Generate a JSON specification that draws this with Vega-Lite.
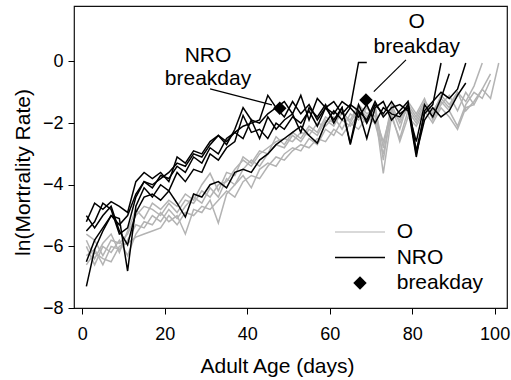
{
"$schema": "https://vega.github.io/schema/vega-lite/v6.json",
"autosize": {"type": "none"},
"padding": {"left": 74, "top": 6, "right": 4, "bottom": 72},
"width": 433,
"height": 302,
"background": "white",
"config": {
  "font": "Liberation Sans",
  "view": {"stroke": "#111", "strokeWidth": 1.2},
  "axis": {"grid": false, "domain": false, "tickColor": "#000", "tickSize": 6, "tickWidth": 1, "labelColor": "#000", "labelFont": "Liberation Sans", "labelFontSize": 18, "titleColor": "#000", "titleFont": "Liberation Sans", "titleFontSize": 21, "titleFontWeight": "normal"}
},
"datasets": {
  "series": [
{"pop":"O1","grp":"O","day":1,"lnm":-5.6},{"pop":"O1","grp":"O","day":3,"lnm":-5.8},{"pop":"O1","grp":"O","day":5,"lnm":-6.3},{"pop":"O1","grp":"O","day":7,"lnm":-5.8},{"pop":"O1","grp":"O","day":9,"lnm":-5.9},{"pop":"O1","grp":"O","day":11,"lnm":-5.6},{"pop":"O1","grp":"O","day":13,"lnm":-5.0},{"pop":"O1","grp":"O","day":15,"lnm":-4.7},{"pop":"O1","grp":"O","day":17,"lnm":-4.8},{"pop":"O1","grp":"O","day":19,"lnm":-5.0},{"pop":"O1","grp":"O","day":21,"lnm":-4.6},{"pop":"O1","grp":"O","day":23,"lnm":-4.9},{"pop":"O1","grp":"O","day":25,"lnm":-4.5},{"pop":"O1","grp":"O","day":27,"lnm":-4.6},{"pop":"O1","grp":"O","day":29,"lnm":-4.2},{"pop":"O1","grp":"O","day":31,"lnm":-4.4},{"pop":"O1","grp":"O","day":33,"lnm":-4.0},{"pop":"O1","grp":"O","day":35,"lnm":-3.9},{"pop":"O1","grp":"O","day":37,"lnm":-3.5},{"pop":"O1","grp":"O","day":39,"lnm":-3.2},{"pop":"O1","grp":"O","day":41,"lnm":-3.4},{"pop":"O1","grp":"O","day":43,"lnm":-3.0},{"pop":"O1","grp":"O","day":45,"lnm":-2.8},{"pop":"O1","grp":"O","day":47,"lnm":-2.6},{"pop":"O1","grp":"O","day":49,"lnm":-2.5},{"pop":"O1","grp":"O","day":51,"lnm":-2.6},{"pop":"O1","grp":"O","day":53,"lnm":-2.3},{"pop":"O1","grp":"O","day":55,"lnm":-2.4},{"pop":"O1","grp":"O","day":57,"lnm":-2.0},{"pop":"O1","grp":"O","day":59,"lnm":-2.1},{"pop":"O1","grp":"O","day":61,"lnm":-1.8},{"pop":"O1","grp":"O","day":63,"lnm":-2.2},{"pop":"O1","grp":"O","day":65,"lnm":-1.7},{"pop":"O1","grp":"O","day":67,"lnm":-1.9},{"pop":"O1","grp":"O","day":69,"lnm":-1.5},{"pop":"O1","grp":"O","day":71,"lnm":-1.8},{"pop":"O1","grp":"O","day":73,"lnm":-2.6},{"pop":"O1","grp":"O","day":75,"lnm":-1.6},{"pop":"O1","grp":"O","day":77,"lnm":-1.9},{"pop":"O1","grp":"O","day":79,"lnm":-1.4},{"pop":"O1","grp":"O","day":81,"lnm":-1.8},{"pop":"O1","grp":"O","day":83,"lnm":-1.3},{"pop":"O1","grp":"O","day":85,"lnm":-1.6},{"pop":"O1","grp":"O","day":87,"lnm":-1.2},{"pop":"O1","grp":"O","day":89,"lnm":-1.5},{"pop":"O1","grp":"O","day":91,"lnm":-1.0},{"pop":"O1","grp":"O","day":93,"lnm":-1.3},{"pop":"O1","grp":"O","day":95,"lnm":-0.8},{"pop":"O1","grp":"O","day":97,"lnm":-0.05},
{"pop":"O2","grp":"O","day":1,"lnm":-6.0},{"pop":"O2","grp":"O","day":3,"lnm":-6.6},{"pop":"O2","grp":"O","day":5,"lnm":-6.0},{"pop":"O2","grp":"O","day":7,"lnm":-6.2},{"pop":"O2","grp":"O","day":9,"lnm":-5.8},{"pop":"O2","grp":"O","day":11,"lnm":-6.3},{"pop":"O2","grp":"O","day":13,"lnm":-5.6},{"pop":"O2","grp":"O","day":15,"lnm":-5.2},{"pop":"O2","grp":"O","day":17,"lnm":-5.3},{"pop":"O2","grp":"O","day":19,"lnm":-4.9},{"pop":"O2","grp":"O","day":21,"lnm":-5.2},{"pop":"O2","grp":"O","day":23,"lnm":-5.0},{"pop":"O2","grp":"O","day":25,"lnm":-5.6},{"pop":"O2","grp":"O","day":27,"lnm":-4.8},{"pop":"O2","grp":"O","day":29,"lnm":-4.9},{"pop":"O2","grp":"O","day":31,"lnm":-4.5},{"pop":"O2","grp":"O","day":33,"lnm":-5.24},{"pop":"O2","grp":"O","day":35,"lnm":-4.3},{"pop":"O2","grp":"O","day":37,"lnm":-4.0},{"pop":"O2","grp":"O","day":39,"lnm":-3.7},{"pop":"O2","grp":"O","day":41,"lnm":-4.1},{"pop":"O2","grp":"O","day":43,"lnm":-3.5},{"pop":"O2","grp":"O","day":45,"lnm":-3.3},{"pop":"O2","grp":"O","day":47,"lnm":-3.4},{"pop":"O2","grp":"O","day":49,"lnm":-3.0},{"pop":"O2","grp":"O","day":51,"lnm":-2.8},{"pop":"O2","grp":"O","day":53,"lnm":-2.9},{"pop":"O2","grp":"O","day":55,"lnm":-2.5},{"pop":"O2","grp":"O","day":57,"lnm":-2.7},{"pop":"O2","grp":"O","day":59,"lnm":-2.2},{"pop":"O2","grp":"O","day":61,"lnm":-2.4},{"pop":"O2","grp":"O","day":63,"lnm":-1.9},{"pop":"O2","grp":"O","day":65,"lnm":-2.1},{"pop":"O2","grp":"O","day":67,"lnm":-1.7},{"pop":"O2","grp":"O","day":69,"lnm":-2.0},{"pop":"O2","grp":"O","day":71,"lnm":-1.6},{"pop":"O2","grp":"O","day":73,"lnm":-3.63},{"pop":"O2","grp":"O","day":75,"lnm":-1.8},{"pop":"O2","grp":"O","day":77,"lnm":-2.5},{"pop":"O2","grp":"O","day":79,"lnm":-1.6},{"pop":"O2","grp":"O","day":81,"lnm":-2.0},{"pop":"O2","grp":"O","day":83,"lnm":-1.5},{"pop":"O2","grp":"O","day":85,"lnm":-1.8},{"pop":"O2","grp":"O","day":87,"lnm":-1.3},{"pop":"O2","grp":"O","day":89,"lnm":-1.6},{"pop":"O2","grp":"O","day":91,"lnm":-2.1},{"pop":"O2","grp":"O","day":93,"lnm":-1.4},{"pop":"O2","grp":"O","day":95,"lnm":-1.0},{"pop":"O2","grp":"O","day":97,"lnm":-1.2},{"pop":"O2","grp":"O","day":99,"lnm":-0.6},
{"pop":"O3","grp":"O","day":1,"lnm":-6.3},{"pop":"O3","grp":"O","day":3,"lnm":-6.1},{"pop":"O3","grp":"O","day":5,"lnm":-6.6},{"pop":"O3","grp":"O","day":7,"lnm":-6.0},{"pop":"O3","grp":"O","day":9,"lnm":-6.1},{"pop":"O3","grp":"O","day":11,"lnm":-5.8},{"pop":"O3","grp":"O","day":13,"lnm":-5.3},{"pop":"O3","grp":"O","day":15,"lnm":-5.4},{"pop":"O3","grp":"O","day":17,"lnm":-5.0},{"pop":"O3","grp":"O","day":19,"lnm":-5.2},{"pop":"O3","grp":"O","day":21,"lnm":-4.8},{"pop":"O3","grp":"O","day":23,"lnm":-5.1},{"pop":"O3","grp":"O","day":25,"lnm":-4.7},{"pop":"O3","grp":"O","day":27,"lnm":-4.4},{"pop":"O3","grp":"O","day":29,"lnm":-4.6},{"pop":"O3","grp":"O","day":31,"lnm":-4.1},{"pop":"O3","grp":"O","day":33,"lnm":-4.4},{"pop":"O3","grp":"O","day":35,"lnm":-3.8},{"pop":"O3","grp":"O","day":37,"lnm":-4.0},{"pop":"O3","grp":"O","day":39,"lnm":-3.5},{"pop":"O3","grp":"O","day":41,"lnm":-3.2},{"pop":"O3","grp":"O","day":43,"lnm":-3.4},{"pop":"O3","grp":"O","day":45,"lnm":-3.0},{"pop":"O3","grp":"O","day":47,"lnm":-2.7},{"pop":"O3","grp":"O","day":49,"lnm":-2.8},{"pop":"O3","grp":"O","day":51,"lnm":-2.4},{"pop":"O3","grp":"O","day":53,"lnm":-2.6},{"pop":"O3","grp":"O","day":55,"lnm":-2.2},{"pop":"O3","grp":"O","day":57,"lnm":-2.4},{"pop":"O3","grp":"O","day":59,"lnm":-1.9},{"pop":"O3","grp":"O","day":61,"lnm":-2.1},{"pop":"O3","grp":"O","day":63,"lnm":-1.6},{"pop":"O3","grp":"O","day":65,"lnm":-2.0},{"pop":"O3","grp":"O","day":67,"lnm":-1.5},{"pop":"O3","grp":"O","day":69,"lnm":-1.8},{"pop":"O3","grp":"O","day":71,"lnm":-1.4},{"pop":"O3","grp":"O","day":73,"lnm":-3.2},{"pop":"O3","grp":"O","day":75,"lnm":-1.5},{"pop":"O3","grp":"O","day":77,"lnm":-2.2},{"pop":"O3","grp":"O","day":79,"lnm":-1.3},{"pop":"O3","grp":"O","day":81,"lnm":-1.7},{"pop":"O3","grp":"O","day":83,"lnm":-1.2},{"pop":"O3","grp":"O","day":85,"lnm":-1.9},{"pop":"O3","grp":"O","day":87,"lnm":-1.4},{"pop":"O3","grp":"O","day":89,"lnm":-1.1},{"pop":"O3","grp":"O","day":91,"lnm":-1.6},{"pop":"O3","grp":"O","day":93,"lnm":-1.0},{"pop":"O3","grp":"O","day":95,"lnm":-1.4},{"pop":"O3","grp":"O","day":97,"lnm":-0.9},{"pop":"O3","grp":"O","day":99,"lnm":-1.2},{"pop":"O3","grp":"O","day":101,"lnm":-0.05},
{"pop":"O4","grp":"O","day":1,"lnm":-6.6},{"pop":"O4","grp":"O","day":3,"lnm":-6.2},{"pop":"O4","grp":"O","day":5,"lnm":-6.4},{"pop":"O4","grp":"O","day":7,"lnm":-6.5},{"pop":"O4","grp":"O","day":9,"lnm":-6.0},{"pop":"O4","grp":"O","day":11,"lnm":-5.9},{"pop":"O4","grp":"O","day":13,"lnm":-5.7},{"pop":"O4","grp":"O","day":15,"lnm":-5.6},{"pop":"O4","grp":"O","day":17,"lnm":-5.5},{"pop":"O4","grp":"O","day":19,"lnm":-5.4},{"pop":"O4","grp":"O","day":21,"lnm":-5.0},{"pop":"O4","grp":"O","day":23,"lnm":-5.3},{"pop":"O4","grp":"O","day":25,"lnm":-4.9},{"pop":"O4","grp":"O","day":27,"lnm":-5.0},{"pop":"O4","grp":"O","day":29,"lnm":-4.7},{"pop":"O4","grp":"O","day":31,"lnm":-4.8},{"pop":"O4","grp":"O","day":33,"lnm":-4.5},{"pop":"O4","grp":"O","day":35,"lnm":-4.2},{"pop":"O4","grp":"O","day":37,"lnm":-4.4},{"pop":"O4","grp":"O","day":39,"lnm":-3.9},{"pop":"O4","grp":"O","day":41,"lnm":-3.7},{"pop":"O4","grp":"O","day":43,"lnm":-3.8},{"pop":"O4","grp":"O","day":45,"lnm":-3.4},{"pop":"O4","grp":"O","day":47,"lnm":-3.1},{"pop":"O4","grp":"O","day":49,"lnm":-3.2},{"pop":"O4","grp":"O","day":51,"lnm":-2.9},{"pop":"O4","grp":"O","day":53,"lnm":-2.7},{"pop":"O4","grp":"O","day":55,"lnm":-2.8},{"pop":"O4","grp":"O","day":57,"lnm":-2.5},{"pop":"O4","grp":"O","day":59,"lnm":-2.6},{"pop":"O4","grp":"O","day":61,"lnm":-2.2},{"pop":"O4","grp":"O","day":63,"lnm":-2.4},{"pop":"O4","grp":"O","day":65,"lnm":-2.0},{"pop":"O4","grp":"O","day":67,"lnm":-2.2},{"pop":"O4","grp":"O","day":69,"lnm":-1.8},{"pop":"O4","grp":"O","day":71,"lnm":-2.0},{"pop":"O4","grp":"O","day":73,"lnm":-3.0},{"pop":"O4","grp":"O","day":75,"lnm":-1.7},{"pop":"O4","grp":"O","day":77,"lnm":-2.6},{"pop":"O4","grp":"O","day":79,"lnm":-1.8},{"pop":"O4","grp":"O","day":81,"lnm":-2.1},{"pop":"O4","grp":"O","day":83,"lnm":-1.6},{"pop":"O4","grp":"O","day":85,"lnm":-2.0},{"pop":"O4","grp":"O","day":87,"lnm":-1.5},{"pop":"O4","grp":"O","day":89,"lnm":-1.8},{"pop":"O4","grp":"O","day":91,"lnm":-2.2},{"pop":"O4","grp":"O","day":93,"lnm":-1.5},{"pop":"O4","grp":"O","day":95,"lnm":-1.4},
{"pop":"O5","grp":"O","day":1,"lnm":-5.8},{"pop":"O5","grp":"O","day":3,"lnm":-6.4},{"pop":"O5","grp":"O","day":5,"lnm":-5.9},{"pop":"O5","grp":"O","day":7,"lnm":-5.6},{"pop":"O5","grp":"O","day":9,"lnm":-6.2},{"pop":"O5","grp":"O","day":11,"lnm":-5.5},{"pop":"O5","grp":"O","day":13,"lnm":-4.8},{"pop":"O5","grp":"O","day":15,"lnm":-5.1},{"pop":"O5","grp":"O","day":17,"lnm":-4.6},{"pop":"O5","grp":"O","day":19,"lnm":-4.8},{"pop":"O5","grp":"O","day":21,"lnm":-4.5},{"pop":"O5","grp":"O","day":23,"lnm":-4.7},{"pop":"O5","grp":"O","day":25,"lnm":-4.3},{"pop":"O5","grp":"O","day":27,"lnm":-4.5},{"pop":"O5","grp":"O","day":29,"lnm":-4.0},{"pop":"O5","grp":"O","day":31,"lnm":-3.63},{"pop":"O5","grp":"O","day":33,"lnm":-4.2},{"pop":"O5","grp":"O","day":35,"lnm":-3.6},{"pop":"O5","grp":"O","day":37,"lnm":-3.7},{"pop":"O5","grp":"O","day":39,"lnm":-3.1},{"pop":"O5","grp":"O","day":41,"lnm":-3.3},{"pop":"O5","grp":"O","day":43,"lnm":-2.9},{"pop":"O5","grp":"O","day":45,"lnm":-3.0},{"pop":"O5","grp":"O","day":47,"lnm":-2.44},{"pop":"O5","grp":"O","day":49,"lnm":-2.7},{"pop":"O5","grp":"O","day":51,"lnm":-2.3},{"pop":"O5","grp":"O","day":53,"lnm":-2.5},{"pop":"O5","grp":"O","day":55,"lnm":-2.1},{"pop":"O5","grp":"O","day":57,"lnm":-2.3},{"pop":"O5","grp":"O","day":59,"lnm":-1.8},{"pop":"O5","grp":"O","day":61,"lnm":-2.0},{"pop":"O5","grp":"O","day":63,"lnm":-1.7},{"pop":"O5","grp":"O","day":65,"lnm":-1.9},{"pop":"O5","grp":"O","day":67,"lnm":-1.4},{"pop":"O5","grp":"O","day":69,"lnm":-1.7},{"pop":"O5","grp":"O","day":71,"lnm":-1.5},{"pop":"O5","grp":"O","day":73,"lnm":-2.8},{"pop":"O5","grp":"O","day":75,"lnm":-1.4},{"pop":"O5","grp":"O","day":77,"lnm":-2.0},{"pop":"O5","grp":"O","day":79,"lnm":-1.5},{"pop":"O5","grp":"O","day":81,"lnm":-1.9},{"pop":"O5","grp":"O","day":83,"lnm":-1.4},{"pop":"O5","grp":"O","day":85,"lnm":-1.7},{"pop":"O5","grp":"O","day":87,"lnm":-1.1},{"pop":"O5","grp":"O","day":89,"lnm":-1.4},{"pop":"O5","grp":"O","day":91,"lnm":-1.0},{"pop":"O5","grp":"O","day":93,"lnm":-1.6},{"pop":"O5","grp":"O","day":95,"lnm":-1.3},{"pop":"O5","grp":"O","day":97,"lnm":-0.9},{"pop":"O5","grp":"O","day":99,"lnm":-0.4},
{"pop":"N1","grp":"NRO","day":1,"lnm":-7.3},{"pop":"N1","grp":"NRO","day":3,"lnm":-6.1},{"pop":"N1","grp":"NRO","day":5,"lnm":-5.5},{"pop":"N1","grp":"NRO","day":7,"lnm":-5.0},{"pop":"N1","grp":"NRO","day":9,"lnm":-5.3},{"pop":"N1","grp":"NRO","day":11,"lnm":-5.0},{"pop":"N1","grp":"NRO","day":13,"lnm":-4.3},{"pop":"N1","grp":"NRO","day":15,"lnm":-3.9},{"pop":"N1","grp":"NRO","day":17,"lnm":-4.0},{"pop":"N1","grp":"NRO","day":19,"lnm":-3.8},{"pop":"N1","grp":"NRO","day":21,"lnm":-3.6},{"pop":"N1","grp":"NRO","day":23,"lnm":-3.3},{"pop":"N1","grp":"NRO","day":25,"lnm":-3.4},{"pop":"N1","grp":"NRO","day":27,"lnm":-3.0},{"pop":"N1","grp":"NRO","day":29,"lnm":-3.1},{"pop":"N1","grp":"NRO","day":31,"lnm":-2.7},{"pop":"N1","grp":"NRO","day":33,"lnm":-2.4},{"pop":"N1","grp":"NRO","day":35,"lnm":-2.7},{"pop":"N1","grp":"NRO","day":37,"lnm":-2.2},{"pop":"N1","grp":"NRO","day":39,"lnm":-1.5},{"pop":"N1","grp":"NRO","day":41,"lnm":-1.9},{"pop":"N1","grp":"NRO","day":43,"lnm":-2.0},{"pop":"N1","grp":"NRO","day":45,"lnm":-1.7},{"pop":"N1","grp":"NRO","day":47,"lnm":-1.5},{"pop":"N1","grp":"NRO","day":49,"lnm":-1.8},{"pop":"N1","grp":"NRO","day":51,"lnm":-1.3},{"pop":"N1","grp":"NRO","day":53,"lnm":-1.7},{"pop":"N1","grp":"NRO","day":55,"lnm":-1.4},{"pop":"N1","grp":"NRO","day":57,"lnm":-1.9},{"pop":"N1","grp":"NRO","day":59,"lnm":-1.5},{"pop":"N1","grp":"NRO","day":61,"lnm":-1.7},{"pop":"N1","grp":"NRO","day":63,"lnm":-1.3},{"pop":"N1","grp":"NRO","day":65,"lnm":-1.5},{"pop":"N1","grp":"NRO","day":67,"lnm":-0.03},{"pop":"N1","grp":"NRO","day":69,"lnm":-0.03},
{"pop":"N2","grp":"NRO","day":1,"lnm":-6.5},{"pop":"N2","grp":"NRO","day":3,"lnm":-5.8},{"pop":"N2","grp":"NRO","day":5,"lnm":-5.4},{"pop":"N2","grp":"NRO","day":7,"lnm":-5.0},{"pop":"N2","grp":"NRO","day":9,"lnm":-5.1},{"pop":"N2","grp":"NRO","day":11,"lnm":-6.8},{"pop":"N2","grp":"NRO","day":13,"lnm":-4.7},{"pop":"N2","grp":"NRO","day":15,"lnm":-4.1},{"pop":"N2","grp":"NRO","day":17,"lnm":-4.4},{"pop":"N2","grp":"NRO","day":19,"lnm":-4.0},{"pop":"N2","grp":"NRO","day":21,"lnm":-4.2},{"pop":"N2","grp":"NRO","day":23,"lnm":-3.6},{"pop":"N2","grp":"NRO","day":25,"lnm":-3.9},{"pop":"N2","grp":"NRO","day":27,"lnm":-3.5},{"pop":"N2","grp":"NRO","day":29,"lnm":-3.6},{"pop":"N2","grp":"NRO","day":31,"lnm":-3.0},{"pop":"N2","grp":"NRO","day":33,"lnm":-3.2},{"pop":"N2","grp":"NRO","day":35,"lnm":-2.8},{"pop":"N2","grp":"NRO","day":37,"lnm":-2.6},{"pop":"N2","grp":"NRO","day":39,"lnm":-1.75},{"pop":"N2","grp":"NRO","day":41,"lnm":-2.3},{"pop":"N2","grp":"NRO","day":43,"lnm":-2.2},{"pop":"N2","grp":"NRO","day":45,"lnm":-2.5},{"pop":"N2","grp":"NRO","day":47,"lnm":-2.0},{"pop":"N2","grp":"NRO","day":49,"lnm":-2.2},{"pop":"N2","grp":"NRO","day":51,"lnm":-1.8},{"pop":"N2","grp":"NRO","day":53,"lnm":-2.0},{"pop":"N2","grp":"NRO","day":55,"lnm":-1.6},{"pop":"N2","grp":"NRO","day":57,"lnm":-2.1},{"pop":"N2","grp":"NRO","day":59,"lnm":-1.5},{"pop":"N2","grp":"NRO","day":61,"lnm":-1.9},{"pop":"N2","grp":"NRO","day":63,"lnm":-1.5},{"pop":"N2","grp":"NRO","day":65,"lnm":-2.65},{"pop":"N2","grp":"NRO","day":67,"lnm":-1.4},{"pop":"N2","grp":"NRO","day":69,"lnm":-2.0},{"pop":"N2","grp":"NRO","day":71,"lnm":-1.4},{"pop":"N2","grp":"NRO","day":73,"lnm":-1.7},{"pop":"N2","grp":"NRO","day":75,"lnm":-1.3},{"pop":"N2","grp":"NRO","day":77,"lnm":-1.7},{"pop":"N2","grp":"NRO","day":79,"lnm":-1.5},{"pop":"N2","grp":"NRO","day":81,"lnm":-3.1},{"pop":"N2","grp":"NRO","day":83,"lnm":-1.6},{"pop":"N2","grp":"NRO","day":85,"lnm":-1.3},{"pop":"N2","grp":"NRO","day":87,"lnm":-1.0},{"pop":"N2","grp":"NRO","day":89,"lnm":-1.2},{"pop":"N2","grp":"NRO","day":91,"lnm":-0.9},{"pop":"N2","grp":"NRO","day":93,"lnm":-0.05},
{"pop":"N3","grp":"NRO","day":1,"lnm":-5.2},{"pop":"N3","grp":"NRO","day":3,"lnm":-4.6},{"pop":"N3","grp":"NRO","day":5,"lnm":-4.8},{"pop":"N3","grp":"NRO","day":7,"lnm":-4.55},{"pop":"N3","grp":"NRO","day":9,"lnm":-4.7},{"pop":"N3","grp":"NRO","day":11,"lnm":-4.9},{"pop":"N3","grp":"NRO","day":13,"lnm":-3.9},{"pop":"N3","grp":"NRO","day":15,"lnm":-3.6},{"pop":"N3","grp":"NRO","day":17,"lnm":-3.8},{"pop":"N3","grp":"NRO","day":19,"lnm":-3.6},{"pop":"N3","grp":"NRO","day":21,"lnm":-3.9},{"pop":"N3","grp":"NRO","day":23,"lnm":-3.1},{"pop":"N3","grp":"NRO","day":25,"lnm":-3.3},{"pop":"N3","grp":"NRO","day":27,"lnm":-2.9},{"pop":"N3","grp":"NRO","day":29,"lnm":-3.0},{"pop":"N3","grp":"NRO","day":31,"lnm":-2.6},{"pop":"N3","grp":"NRO","day":33,"lnm":-2.4},{"pop":"N3","grp":"NRO","day":35,"lnm":-2.6},{"pop":"N3","grp":"NRO","day":37,"lnm":-2.3},{"pop":"N3","grp":"NRO","day":39,"lnm":-2.1},{"pop":"N3","grp":"NRO","day":41,"lnm":-2.0},{"pop":"N3","grp":"NRO","day":43,"lnm":-1.9},{"pop":"N3","grp":"NRO","day":45,"lnm":-1.1},{"pop":"N3","grp":"NRO","day":47,"lnm":-1.5},{"pop":"N3","grp":"NRO","day":49,"lnm":-1.3},{"pop":"N3","grp":"NRO","day":51,"lnm":-1.7},{"pop":"N3","grp":"NRO","day":53,"lnm":-1.1},{"pop":"N3","grp":"NRO","day":55,"lnm":-1.9},{"pop":"N3","grp":"NRO","day":57,"lnm":-1.2},{"pop":"N3","grp":"NRO","day":59,"lnm":-1.5},{"pop":"N3","grp":"NRO","day":61,"lnm":-1.3},{"pop":"N3","grp":"NRO","day":63,"lnm":-1.7},{"pop":"N3","grp":"NRO","day":65,"lnm":-1.4},{"pop":"N3","grp":"NRO","day":67,"lnm":-1.6},{"pop":"N3","grp":"NRO","day":69,"lnm":-2.5},{"pop":"N3","grp":"NRO","day":71,"lnm":-1.5},{"pop":"N3","grp":"NRO","day":73,"lnm":-1.3},{"pop":"N3","grp":"NRO","day":75,"lnm":-1.9},{"pop":"N3","grp":"NRO","day":77,"lnm":-1.6},{"pop":"N3","grp":"NRO","day":79,"lnm":-1.3},{"pop":"N3","grp":"NRO","day":81,"lnm":-2.9},{"pop":"N3","grp":"NRO","day":83,"lnm":-1.7},{"pop":"N3","grp":"NRO","day":85,"lnm":-1.4},{"pop":"N3","grp":"NRO","day":87,"lnm":-0.05},
{"pop":"N4","grp":"NRO","day":1,"lnm":-5.0},{"pop":"N4","grp":"NRO","day":3,"lnm":-5.4},{"pop":"N4","grp":"NRO","day":5,"lnm":-5.0},{"pop":"N4","grp":"NRO","day":7,"lnm":-4.7},{"pop":"N4","grp":"NRO","day":9,"lnm":-5.5},{"pop":"N4","grp":"NRO","day":11,"lnm":-5.95},{"pop":"N4","grp":"NRO","day":13,"lnm":-4.9},{"pop":"N4","grp":"NRO","day":15,"lnm":-4.4},{"pop":"N4","grp":"NRO","day":17,"lnm":-4.3},{"pop":"N4","grp":"NRO","day":19,"lnm":-4.5},{"pop":"N4","grp":"NRO","day":21,"lnm":-4.2},{"pop":"N4","grp":"NRO","day":23,"lnm":-4.6},{"pop":"N4","grp":"NRO","day":25,"lnm":-5.05},{"pop":"N4","grp":"NRO","day":27,"lnm":-4.3},{"pop":"N4","grp":"NRO","day":29,"lnm":-4.4},{"pop":"N4","grp":"NRO","day":31,"lnm":-4.0},{"pop":"N4","grp":"NRO","day":33,"lnm":-3.9},{"pop":"N4","grp":"NRO","day":35,"lnm":-4.1},{"pop":"N4","grp":"NRO","day":37,"lnm":-3.6},{"pop":"N4","grp":"NRO","day":39,"lnm":-3.5},{"pop":"N4","grp":"NRO","day":41,"lnm":-3.6},{"pop":"N4","grp":"NRO","day":43,"lnm":-3.2},{"pop":"N4","grp":"NRO","day":45,"lnm":-3.0},{"pop":"N4","grp":"NRO","day":47,"lnm":-2.7},{"pop":"N4","grp":"NRO","day":49,"lnm":-2.5},{"pop":"N4","grp":"NRO","day":51,"lnm":-2.3},{"pop":"N4","grp":"NRO","day":53,"lnm":-2.1},{"pop":"N4","grp":"NRO","day":55,"lnm":-2.4},{"pop":"N4","grp":"NRO","day":57,"lnm":-2.65},{"pop":"N4","grp":"NRO","day":59,"lnm":-2.0},{"pop":"N4","grp":"NRO","day":61,"lnm":-1.6},{"pop":"N4","grp":"NRO","day":63,"lnm":-1.9},{"pop":"N4","grp":"NRO","day":65,"lnm":-1.5},{"pop":"N4","grp":"NRO","day":67,"lnm":-1.8},{"pop":"N4","grp":"NRO","day":69,"lnm":-1.4},{"pop":"N4","grp":"NRO","day":71,"lnm":-2.0},{"pop":"N4","grp":"NRO","day":73,"lnm":-1.5},{"pop":"N4","grp":"NRO","day":75,"lnm":-1.7},{"pop":"N4","grp":"NRO","day":77,"lnm":-1.8},{"pop":"N4","grp":"NRO","day":79,"lnm":-1.4},{"pop":"N4","grp":"NRO","day":81,"lnm":-3.0},{"pop":"N4","grp":"NRO","day":83,"lnm":-1.9},{"pop":"N4","grp":"NRO","day":85,"lnm":-1.5},{"pop":"N4","grp":"NRO","day":87,"lnm":-1.8},{"pop":"N4","grp":"NRO","day":89,"lnm":-1.6},{"pop":"N4","grp":"NRO","day":91,"lnm":-1.1},{"pop":"N4","grp":"NRO","day":93,"lnm":-0.7},
{"pop":"N5","grp":"NRO","day":1,"lnm":-5.5},{"pop":"N5","grp":"NRO","day":3,"lnm":-5.2},{"pop":"N5","grp":"NRO","day":5,"lnm":-4.6},{"pop":"N5","grp":"NRO","day":7,"lnm":-4.8},{"pop":"N5","grp":"NRO","day":9,"lnm":-5.6},{"pop":"N5","grp":"NRO","day":11,"lnm":-5.4},{"pop":"N5","grp":"NRO","day":13,"lnm":-4.4},{"pop":"N5","grp":"NRO","day":15,"lnm":-3.9},{"pop":"N5","grp":"NRO","day":17,"lnm":-4.1},{"pop":"N5","grp":"NRO","day":19,"lnm":-3.7},{"pop":"N5","grp":"NRO","day":21,"lnm":-3.8},{"pop":"N5","grp":"NRO","day":23,"lnm":-3.4},{"pop":"N5","grp":"NRO","day":25,"lnm":-3.6},{"pop":"N5","grp":"NRO","day":27,"lnm":-3.1},{"pop":"N5","grp":"NRO","day":29,"lnm":-3.3},{"pop":"N5","grp":"NRO","day":31,"lnm":-2.8},{"pop":"N5","grp":"NRO","day":33,"lnm":-3.0},{"pop":"N5","grp":"NRO","day":35,"lnm":-2.5},{"pop":"N5","grp":"NRO","day":37,"lnm":-2.3},{"pop":"N5","grp":"NRO","day":39,"lnm":-2.5},{"pop":"N5","grp":"NRO","day":41,"lnm":-1.9},{"pop":"N5","grp":"NRO","day":43,"lnm":-2.5},{"pop":"N5","grp":"NRO","day":45,"lnm":-1.8},{"pop":"N5","grp":"NRO","day":47,"lnm":-2.2},{"pop":"N5","grp":"NRO","day":49,"lnm":-1.9},{"pop":"N5","grp":"NRO","day":51,"lnm":-1.7},{"pop":"N5","grp":"NRO","day":53,"lnm":-2.3},{"pop":"N5","grp":"NRO","day":55,"lnm":-1.5},{"pop":"N5","grp":"NRO","day":57,"lnm":-1.8},{"pop":"N5","grp":"NRO","day":59,"lnm":-1.4},{"pop":"N5","grp":"NRO","day":61,"lnm":-2.0},{"pop":"N5","grp":"NRO","day":63,"lnm":-1.5},{"pop":"N5","grp":"NRO","day":65,"lnm":-2.7},{"pop":"N5","grp":"NRO","day":67,"lnm":-1.6},{"pop":"N5","grp":"NRO","day":69,"lnm":-1.9},{"pop":"N5","grp":"NRO","day":71,"lnm":-1.3},{"pop":"N5","grp":"NRO","day":73,"lnm":-1.8},{"pop":"N5","grp":"NRO","day":75,"lnm":-1.5},{"pop":"N5","grp":"NRO","day":77,"lnm":-1.4},{"pop":"N5","grp":"NRO","day":79,"lnm":-1.6},{"pop":"N5","grp":"NRO","day":81,"lnm":-2.6},{"pop":"N5","grp":"NRO","day":83,"lnm":-1.4},{"pop":"N5","grp":"NRO","day":85,"lnm":-1.8},{"pop":"N5","grp":"NRO","day":87,"lnm":-1.2},{"pop":"N5","grp":"NRO","day":89,"lnm":-0.4}
  ],
  "breaks": [
    {"grp": "breakday", "day": 47.9, "lnm": -1.52},
    {"grp": "breakday", "day": 68.8, "lnm": -1.25}
  ],
  "pointers": [
    {"day": 31.0, "lnm": -0.89, "day2": 46.0, "lnm2": -1.41},
    {"day": 78.5, "lnm": 0.05, "day2": 70.7, "lnm2": -0.98}
  ],
  "notes": [
    {"day": 30.5, "lnm": -0.01, "label": "NRO"},
    {"day": 30.5, "lnm": -0.76, "label": "breakday"},
    {"day": 81.1, "lnm": 1.08, "label": "O"},
    {"day": 81.1, "lnm": 0.27, "label": "breakday"}
  ]
},
"encoding": {
  "x": {"field": "day", "type": "quantitative", "scale": {"domain": [-2, 103], "nice": false, "zero": false},
        "axis": {"values": [0, 20, 40, 60, 80, 100], "title": "Adult Age (days)", "labelPadding": 11.5, "titleX": 203, "titleY": 64, "titleBaseline": "alphabetic", "titleAlign": "center", "titleAnchor": null}},
  "y": {"field": "lnm", "type": "quantitative", "scale": {"domain": [-8, 1.8], "nice": false, "zero": false},
        "axis": {"values": [-8, -6, -4, -2, 0], "title": "ln(Mortrality Rate)", "labelPadding": 5, "titleX": -44.5, "titleY": 166, "titleBaseline": "alphabetic", "titleAlign": "center", "titleAngle": 270, "titleAnchor": null}}
},
"layer": [
  {
    "data": {"name": "series"},
    "mark": {"type": "line", "strokeWidth": 1.5},
    "encoding": {
      "color": {"field": "grp", "type": "nominal",
        "scale": {"domain": ["O", "NRO", "breakday"], "range": ["#b3b3b3", "#000000", "#000000"]},
        "legend": {"title": null, "orient": "none", "legendX": 260, "legendY": 214.5, "padding": 0, "clipHeight": 23, "rowPadding": 2.5, "labelFont": "Liberation Sans", "labelFontSize": 21, "labelColor": "#000", "symbolOffset": 0, "symbolSize": 2500,
          "encode": {
            "symbols": {"update": {
              "x": {"value": 26},
              "shape": {"signal": "datum.value === 'breakday' ? 'diamond' : 'stroke'"},
              "size": {"signal": "datum.value === 'breakday' ? 180 : 2500"},
              "strokeWidth": {"signal": "datum.value === 'O' ? 1 : (datum.value === 'NRO' ? 1.6 : 0)"},
              "fill": {"signal": "datum.value === 'breakday' ? '#000000' : 'transparent'"},
              "stroke": {"signal": "datum.value === 'O' ? '#b3b3b3' : '#000000'"},
              "opacity": {"value": 1}
            }},
            "labels": {"update": {"x": {"value": 62.7}}}
          }}},
      "detail": {"field": "pop", "type": "nominal"}
    }
  },
  {
    "data": {"name": "breaks"},
    "mark": {"type": "point", "shape": "diamond", "filled": true, "size": 180, "opacity": 1},
    "encoding": {
      "color": {"field": "grp", "type": "nominal", "scale": {"domain": ["O", "NRO", "breakday"], "range": ["#b3b3b3", "#000000", "#000000"]}}
    }
  },
  {
    "data": {"name": "pointers"},
    "mark": {"type": "rule", "color": "#000", "strokeWidth": 1.2},
    "encoding": {
      "x2": {"field": "day2"},
      "y2": {"field": "lnm2"}
    }
  },
  {
    "data": {"name": "notes"},
    "mark": {"type": "text", "font": "Liberation Sans", "fontSize": 21, "align": "center", "baseline": "alphabetic", "color": "#000"},
    "encoding": {
      "text": {"field": "label"}
    }
  }
]
}
